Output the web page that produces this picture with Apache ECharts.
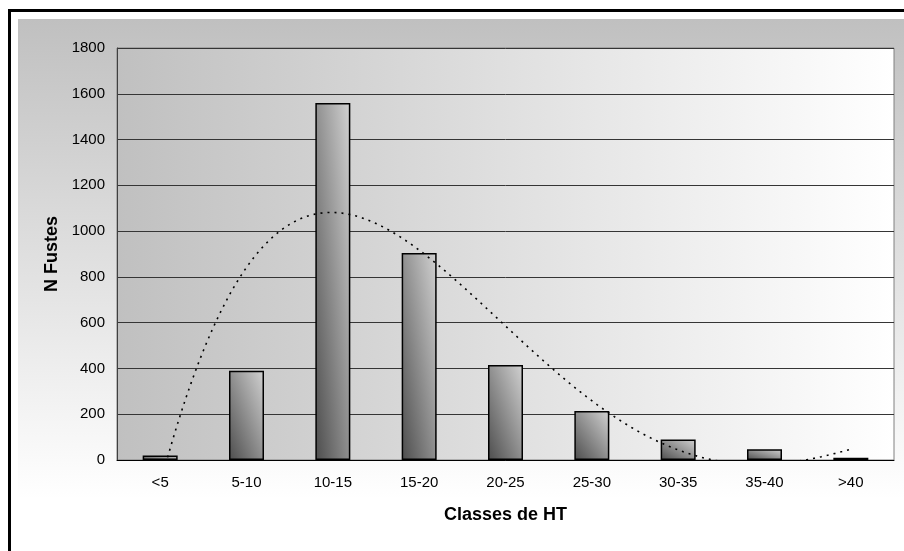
<!DOCTYPE html>
<html>
<head>
<meta charset="utf-8">
<title>N Fustes par classes de HT</title>
<script src="https://cdn.jsdelivr.net/npm/echarts@6/dist/echarts.min.js"></script>
<style>
  html, body { margin: 0; padding: 0; background: #ffffff; }
  #chart { width: 904px; height: 551px; }
</style>
</head>
<body>
<div id="chart"></div>
<script>
// Height classes (HT) and number of stems per class
const categories = ['<5', '5-10', '10-15', '15-20', '20-25', '25-30', '30-35', '35-40', '>40'];
const fustes = [20, 390, 1560, 904, 415, 214, 90, 47, 10];
const yTicks = { min: 0, max: 1800, interval: 200 };
const trendOrder = 4;

// Least-squares polynomial fit (the chart's polynomial trend line)
function polyFit(xs, ys, order) {
  const n = order + 1;
  const A = [];
  for (let r = 0; r < n; r++) {
    A.push(new Array(n + 1).fill(0));
    for (let c = 0; c < n; c++) {
      A[r][c] = xs.reduce((s, x) => s + Math.pow(x, r + c), 0);
    }
    A[r][n] = xs.reduce((s, x, i) => s + Math.pow(x, r) * ys[i], 0);
  }
  for (let p = 0; p < n; p++) {
    let best = p;
    for (let r = p + 1; r < n; r++) if (Math.abs(A[r][p]) > Math.abs(A[best][p])) best = r;
    [A[p], A[best]] = [A[best], A[p]];
    for (let r = 0; r < n; r++) {
      if (r === p) continue;
      const f = A[r][p] / A[p][p];
      for (let c = p; c <= n; c++) A[r][c] -= f * A[p][c];
    }
  }
  return A.map((row, i) => row[n] / row[i]);
}

const xs = categories.map((_, i) => i + 1);
const coef = polyFit(xs, fustes, trendOrder);
const evalPoly = x => coef.reduce((s, c, k) => s + c * Math.pow(x, k), 0);
const trend = [];
for (let k = 0; k <= 400; k++) {
  const x = 1 + (k / 400) * (categories.length - 1);
  trend.push([x, evalPoly(x)]);
}

const FONT = "'Liberation Sans', Arial, sans-serif";
const BAR_W = 35;

// Diagonal fill running from the bottom-left corner to the top-right corner
// of a bar of w x h pixels, so that both width and height carry half the shade range.
function barFill(w, h) {
  const s = w * w + h * h;
  const x2 = s > 0 ? (2 * h * h) / s : 1;
  const y2 = s > 0 ? 1 - (2 * w * w) / s : 0;
  return new echarts.graphic.LinearGradient(0, 1, x2, y2, [
    { offset: 0, color: '#4d4d4d' },
    { offset: 1, color: '#d2d2d2' }
  ]);
}

const chart = echarts.init(document.getElementById('chart'), null, { renderer: 'canvas' });
const option = {
  animation: false,
  backgroundColor: '#ffffff',
  graphic: [
    {
      type: 'rect', z: -10, silent: true,
      shape: { x: 18, y: 19, width: 900, height: 600 },
      style: {
        fill: new echarts.graphic.LinearGradient(0, 0, 0, 1, [
          { offset: 0, color: '#c0c0c0' },
          { offset: 0.8, color: '#ffffff' },
          { offset: 1, color: '#ffffff' }
        ])
      }
    },
    {
      type: 'rect', z: -9, silent: true,
      shape: { x: 9.5, y: 10.5, width: 2000, height: 2000 },
      style: { fill: 'none', stroke: '#000000', lineWidth: 3 }
    }
  ],
  grid: {
    left: 117, top: 48, right: 10, bottom: 91,
    show: true,
    backgroundColor: new echarts.graphic.LinearGradient(0, 0, 1, 0, [
      { offset: 0, color: '#c0c0c0' },
      { offset: 1, color: '#ffffff' }
    ]),
    borderColor: '#808080',
    borderWidth: 1
  },
  xAxis: [
    {
      type: 'category',
      data: categories,
      boundaryGap: true,
      name: 'Classes de HT',
      nameLocation: 'middle',
      nameGap: 46,
      nameTextStyle: { fontFamily: FONT, fontSize: 18, fontWeight: 'bold', color: '#000' },
      axisLine: { show: true, lineStyle: { color: '#000', width: 1 } },
      axisTick: { show: false },
      axisLabel: { fontFamily: FONT, fontSize: 15, color: '#000', margin: 15 },
      splitLine: { show: false }
    },
    {
      type: 'value',
      show: false,
      min: 0.5,
      max: categories.length + 0.5
    }
  ],
  yAxis: {
    type: 'value',
    min: yTicks.min,
    max: yTicks.max,
    interval: yTicks.interval,
    name: 'N Fustes',
    nameLocation: 'middle',
    nameGap: 56,
    nameTextStyle: { fontFamily: FONT, fontSize: 18, fontWeight: 'bold', color: '#000' },
    axisLine: { show: true, lineStyle: { color: '#404040', width: 1 } },
    axisTick: { show: false },
    axisLabel: {
      fontFamily: FONT, fontSize: 15, color: '#000', margin: 12,
      formatter: v => String(v)
    },
    splitLine: { show: true, lineStyle: { color: '#353535', width: 1 } }
  },
  series: [
    {
      id: 'bars',
      type: 'bar',
      data: fustes,
      barWidth: BAR_W,
      itemStyle: {
        color: '#888888',
        borderColor: '#000',
        borderWidth: 1.5
      },
      z: 2
    },
    {
      type: 'line',
      xAxisIndex: 1,
      data: trend,
      showSymbol: false,
      clip: true,
      lineStyle: { color: '#000', width: 1.6, type: [2, 5] },
      z: 3
    }
  ]
};
chart.setOption(option);

// Give each bar its own diagonal shading, sized from its pixel height on the axis.
const base = chart.convertToPixel({ yAxisIndex: 0 }, 0);
chart.setOption({
  series: [{
    id: 'bars',
    data: fustes.map(v => {
      const h = Math.abs(base - chart.convertToPixel({ yAxisIndex: 0 }, v));
      return { value: v, itemStyle: { color: barFill(BAR_W, h) } };
    })
  }]
});
</script>
</body>
</html>
